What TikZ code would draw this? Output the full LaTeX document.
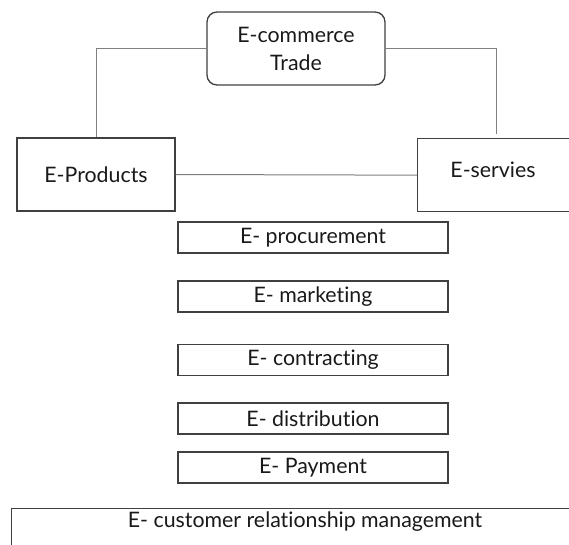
\documentclass[tikz,border=0pt]{standalone}
\usepackage{fontspec}
\setmainfont{Lato}[Ligatures=NoCommon]
\begin{document}
\begin{tikzpicture}
  [x=0.75pt,y=-0.75pt,
   every node/.style={font=\fontsize{16}{21}\selectfont,text=black!90},
   box/.style={draw=black!75,line width=1pt,inner sep=0pt},
   stage/.style={box,minimum width=202.5pt,minimum height=23.25pt},
   link/.style={draw=black!50,line width=0.75pt}]
  \useasboundingbox (0,0) rectangle (569,544);
  \clip (0,0) rectangle (569,544);

  \node[box,rounded corners=7.5pt,minimum width=133.5pt,minimum height=54.75pt,align=center] (trade) at (296,48.5) {E-commerce\\Trade};
  \node[box,minimum width=118.5pt,minimum height=54.75pt] (prod) at (96,174.5) {E-Products};
  \node[box,anchor=north west,minimum width=150pt,minimum height=54.75pt] (serv) at (417,138) {};
  \node (servtxt) at (493,170) {E-servies};
  \coordinate (servtop) at (496,134);

  \foreach \name/\y/\txt in {proc/237.5/procurement,mark/296.5/marketing,contr/360/contracting,distr/418.5/distribution,pay/467.5/Payment}
    \node[stage] (\name) at (313,\y) {E- \txt};

  \node[box,anchor=north west,minimum width=450pt,minimum height=45pt] (crm) at (11,508) {};
  \node (crmtxt) at (305,522) {E- customer relationship management};

  \draw[link] (trade.west) -| (prod.north);
  \draw[link] (trade.east) -| (servtop);
  \draw[link] (prod.east) -- (serv.west);

\end{tikzpicture}
\end{document}
